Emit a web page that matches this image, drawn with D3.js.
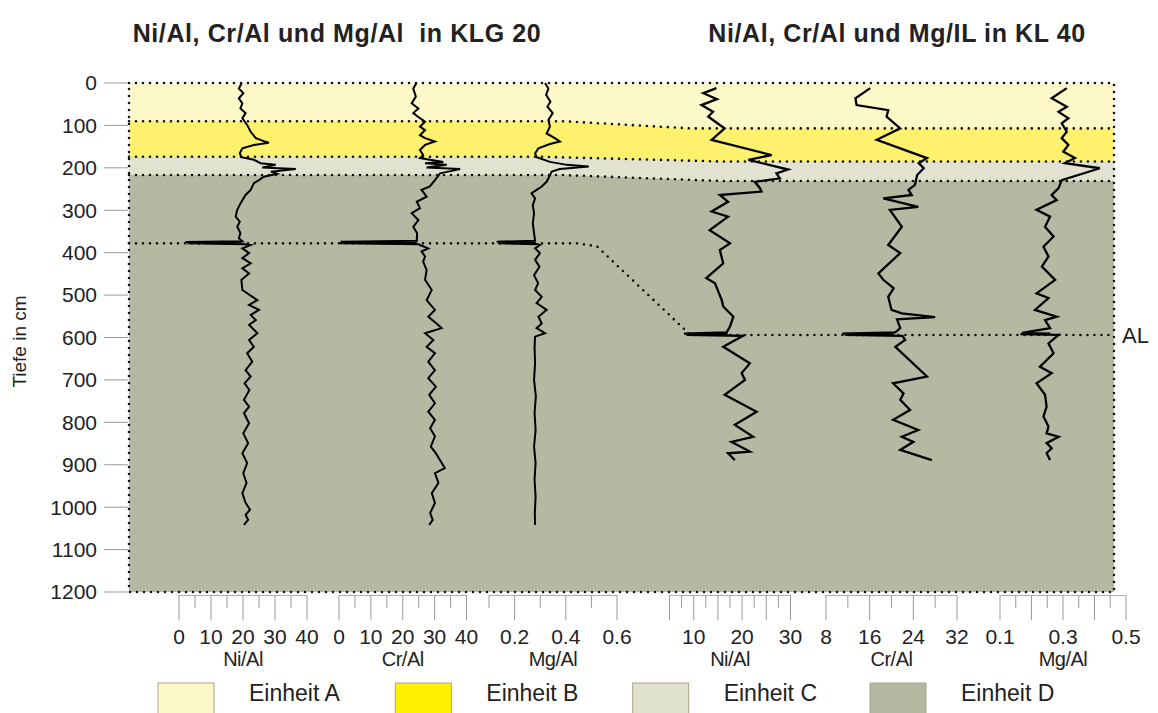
<!DOCTYPE html>
<meta charset="utf-8">
<style>
    body { margin: 0; background: #fff; }
    svg { font-family: "Liberation Sans", Arial, sans-serif; }
    .title { white-space: pre; }
</style>
<body>
<script src="https://d3js.org/d3.v7.min.js"></script>
<script>
const width = 1158, height = 713;

// depth axis (cm)
const depthTicks = d3.range(0, 1201, 100);

// layer boundaries: [position across the panel in %, depth in cm]
const boundaryAB = [[0, 90], [44, 90], [57, 107], [100, 107]];
const boundaryBC = [[0, 174], [42, 174], [60, 185], [100, 185]];
const boundaryCD = [[0, 217], [44, 217], [60, 231], [100, 231]];
const boundaryAL = [[0, 378], [45.5, 378], [47.5, 385], [57, 594], [100, 594]];

const units = ["Einheit A", "Einheit B", "Einheit C", "Einheit D"];
const unitFill = ["#fdf9c9", "#fdf16e", "#e1e2cf", "#b6b9a2"];
const legendFill = ["#fdf8c8", "#fff100", "#e0e1cf", "#b5b8a1"];

const titles = ["Ni/Al, Cr/Al und Mg/Al  in KLG 20", "Ni/Al, Cr/Al und Mg/IL in KL 40"];

// profiles: [depth cm, ratio]
const klgNi = [[0,19.6],[13,18.7],[24,20.1],[36,18.7],[48,19.8],[60,19.2],[71,20.8],[83,19.8],[99,21.3],[115,22.4],[130,24],[137,26.5],[141,28.1],[146,23.4],[154,19.8],[166,19],[175,19.5],[181,23.4],[189,25.5],[193,30.2],[199,26],[203,36.5],[209,28.7],[214,30.7],[221,26.5],[229,25],[236,23.4],[252,22.4],[264,20.8],[284,19.2],[299,18.2],[315,17.7],[327,19],[339,18.2],[354,19.2],[366,18.7],[373,19.8],[375,2],[377,19],[378,2.5],[380,20.5],[382,22.4],[390,19.8],[401,21.9],[413,19.8],[425,22.4],[437,19.8],[449,21.9],[464,19.5],[488,19.8],[512,24.5],[523,21.9],[535,25],[547,22.4],[559,24],[570,21.9],[590,24.5],[606,21.9],[622,23.4],[637,21.3],[657,22.9],[677,20.8],[692,22.4],[708,20.5],[724,22],[747,20.3],[763,21.9],[778,20.3],[802,21.9],[826,20.1],[849,21.6],[873,19.8],[896,21.3],[920,20.1],[943,21.1],[967,19.8],[990,20.8],[1006,22.2],[1018,20.8],[1030,21.6],[1042,20.3]];
const klgCr = [[0,24.3],[13,23.3],[32,24.1],[48,22.8],[60,24.9],[71,23.3],[83,25.4],[91,27],[103,25.4],[111,27],[123,25.4],[130,27],[138,30.1],[146,27],[158,25.4],[170,26.4],[177,25.4],[186,32.7],[189,27],[193,33.8],[199,27.5],[203,38],[213,31.7],[229,30.1],[244,28.5],[252,25.9],[268,27.5],[280,24.4],[295,25.4],[307,22.8],[323,24.9],[339,23.3],[354,24.5],[372,24.4],[374,0.5],[376,24],[378,0.3],[380,25],[382,25.4],[390,28],[397,25.9],[409,27],[421,26.4],[441,27.5],[464,27],[488,29.1],[512,27.5],[535,30.1],[551,28],[567,30.6],[578,32.2],[590,27],[606,29.6],[622,27.5],[637,30.1],[657,28],[677,30.1],[696,28],[716,30.4],[735,28.3],[755,30.1],[775,28],[794,30.1],[814,28.6],[833,30.1],[857,28.8],[873,30.4],[908,33.2],[920,30.1],[943,31.2],[967,29.1],[990,30.1],[1014,28.6],[1030,29.4],[1042,28.3]];
const klgMg = [[0,0.319],[13,0.332],[28,0.323],[44,0.34],[56,0.328],[71,0.349],[87,0.332],[103,0.338],[119,0.325],[130,0.357],[138,0.377],[144,0.338],[154,0.293],[166,0.28],[175,0.286],[186,0.338],[193,0.404],[197,0.49],[203,0.377],[209,0.345],[221,0.335],[233,0.325],[244,0.306],[252,0.286],[260,0.266],[272,0.28],[288,0.271],[307,0.276],[331,0.271],[354,0.276],[372,0.28],[374,0.13],[376,0.28],[378,0.135],[380,0.29],[382,0.299],[390,0.28],[401,0.299],[417,0.28],[433,0.297],[453,0.276],[472,0.292],[488,0.28],[504,0.306],[519,0.286],[535,0.325],[551,0.293],[567,0.306],[578,0.286],[590,0.319],[598,0.28],[622,0.278],[661,0.28],[700,0.276],[739,0.283],[778,0.278],[818,0.282],[857,0.276],[896,0.282],[935,0.278],[975,0.282],[1014,0.279],[1042,0.28]];

const klNi = [[12,14.7],[24,12],[38,14.8],[52,11.6],[68,14],[79,13],[99,15.4],[107,16.4],[134,13.7],[170,26.1],[181,21.3],[204,29.5],[213,27.1],[225,27.8],[233,22.6],[248,23.7],[256,24],[264,15.4],[280,17.1],[303,13.7],[315,17.1],[347,13.3],[378,17.5],[394,15.4],[425,16.1],[460,12.6],[472,14.4],[512,15.8],[527,16.1],[551,18.2],[574,17.5],[588,16.8],[591,8],[593,17],[594,8.5],[596,20.2],[622,16.1],[661,21.6],[684,19.9],[700,20.6],[735,16.4],[775,23],[806,18.5],[834,22.3],[846,17.8],[869,21.6],[873,17.1],[889,18.5]];
const klCr = [[12,16.1],[36,13.4],[52,13.6],[64,19.4],[79,19.1],[107,21.6],[134,17.3],[177,26.5],[189,25],[201,25.9],[217,24.7],[240,24.3],[252,23.1],[264,23.7],[272,18.5],[292,24.9],[299,19.7],[339,21.9],[382,19.4],[401,21.6],[449,17.6],[464,18.5],[484,20.4],[504,19.4],[535,20],[543,21.9],[552,28],[557,21],[578,21.6],[588,20.7],[591,11],[593,20.5],[594,11.5],[596,22],[606,22.5],[622,20.7],[692,26.5],[708,20.3],[732,22.2],[747,21.6],[771,23.4],[794,20.3],[818,24.9],[834,21.9],[846,24],[865,21.6],[889,27.4]];
const klMg = [[12,0.312],[36,0.264],[56,0.312],[68,0.286],[83,0.317],[95,0.296],[115,0.312],[130,0.296],[146,0.317],[162,0.301],[177,0.338],[189,0.306],[201,0.417],[229,0.296],[248,0.286],[264,0.264],[276,0.28],[299,0.216],[315,0.259],[339,0.243],[362,0.27],[386,0.238],[409,0.254],[433,0.233],[464,0.275],[496,0.216],[507,0.254],[535,0.211],[551,0.28],[559,0.243],[578,0.259],[589,0.17],[591,0.26],[592,0.165],[594,0.286],[614,0.254],[637,0.27],[669,0.227],[684,0.264],[708,0.216],[735,0.243],[763,0.248],[786,0.238],[810,0.254],[826,0.248],[834,0.286],[849,0.248],[861,0.264],[873,0.248],[889,0.259]];

// bottom axes: all ticks, long ticks and labelled values
const klgNiTicks = d3.range(0, 41, 5),  klgNiMajor = [0, 10, 20, 30, 40],  klgNiLabels = [0, 10, 20, 30, 40];
const klgCrTicks = d3.range(0, 41, 5),  klgCrMajor = [0, 10, 20, 30, 40],  klgCrLabels = [0, 10, 20, 30, 40];
const klgMgTicks = [0.1, 0.2, 0.3, 0.4, 0.5, 0.6], klgMgMajor = [0.2, 0.4, 0.6], klgMgLabels = [0.2, 0.4, 0.6];
const klNiTicks = [5, 7.5, 10, 12.5, 15, 17.5, 20, 22.5, 25, 27.5, 30], klNiMajor = [5, 10, 15, 20, 25, 30], klNiLabels = [10, 20, 30];
const klCrTicks = [8, 12, 16, 20, 24, 28, 32], klCrMajor = [8, 16, 24, 32], klCrLabels = [8, 16, 24, 32];
const klMgTicks = [0.1, 0.15, 0.2, 0.25, 0.3, 0.35, 0.4, 0.45, 0.5], klMgMajor = [0.1, 0.2, 0.3, 0.4, 0.5], klMgLabels = [0.1, 0.3, 0.5];

const svg = d3.select("body").append("svg")
    .attr("width", width)
    .attr("height", height);

const plotLeft = 129, plotRight = 1114, plotTop = 83, plotBottom = 592;

const y = d3.scaleLinear().domain([0, 1200]).range([plotTop, plotBottom]);
const pos = d3.scaleLinear().domain([0, 100]).range([plotLeft, plotRight]);

// layers: D first, then C, B, A painted from the top down to their lower boundary
svg.append("rect")
    .attr("x", plotLeft).attr("y", y(0))
    .attr("width", plotRight - plotLeft).attr("height", y(1200) - y(0))
    .attr("fill", unitFill[3]);

const fromTop = d3.area()
    .x(d => pos(d[0]))
    .y0(y(0))
    .y1(d => y(d[1]));

[[boundaryCD, 2], [boundaryBC, 1], [boundaryAB, 0]].forEach(([b, i]) => {
    svg.append("path").attr("d", fromTop(b)).attr("fill", unitFill[i]);
});

// dotted boundaries
const boundaryLine = d3.line().x(d => pos(d[0])).y(d => y(d[1]));
const dotted = sel => sel
    .attr("fill", "none")
    .attr("stroke", "#111")
    .attr("stroke-width", 2.6)
    .attr("stroke-linecap", "round")
    .attr("stroke-dasharray", "0 7");

[boundaryAB, boundaryBC, boundaryCD, boundaryAL].forEach(b => {
    svg.append("path").attr("d", boundaryLine(b)).call(dotted);
});

// dotted frame
svg.append("path")
    .attr("d", `M${plotLeft},${plotTop}H${plotRight}V${plotBottom}H${plotLeft}Z`)
    .call(dotted);

// depth axis
const yAxis = svg.append("g").attr("class", "y axis");
yAxis.selectAll("line").data(depthTicks).enter().append("line")
    .attr("x1", 104).attr("x2", plotLeft - 1)
    .attr("y1", d => y(d)).attr("y2", d => y(d))
    .attr("stroke", "#9a9a9a").attr("stroke-width", 1);
yAxis.selectAll("text").data(depthTicks).enter().append("text")
    .attr("x", 97)
    .attr("y", d => y(d))
    .attr("dy", "0.35em")
    .attr("text-anchor", "end")
    .attr("font-size", 21)
    .attr("fill", "#222")
    .text(d => d);

svg.append("text")
    .attr("transform", `translate(26,${(plotTop + plotBottom) / 2 + 4}) rotate(-90)`)
    .attr("text-anchor", "middle")
    .attr("font-size", 19)
    .attr("fill", "#222")
    .text("Tiefe in cm");

// profiles with their own horizontal scales
const profiles = [
    { name: "Ni/Al", data: klgNi, scale: d3.scaleLinear().domain([0, 40]).range([179, 307]), ticks: klgNiTicks, major: klgNiMajor, labels: klgNiLabels, fmt: d3.format("d"), w: 2 },
    { name: "Cr/Al", data: klgCr, scale: d3.scaleLinear().domain([0, 40]).range([339, 466.5]), ticks: klgCrTicks, major: klgCrMajor, labels: klgCrLabels, fmt: d3.format("d"), w: 2 },
    { name: "Mg/Al", data: klgMg, scale: d3.scaleLinear().domain([0.1, 0.6]).range([489, 617]), ticks: klgMgTicks, major: klgMgMajor, labels: klgMgLabels, fmt: d3.format(".1f"), w: 2 },
    { name: "Ni/Al", data: klNi, scale: d3.scaleLinear().domain([5, 30]).range([669.5, 790.5]), ticks: klNiTicks, major: klNiMajor, labels: klNiLabels, fmt: d3.format("d"), w: 2.3 },
    { name: "Cr/Al", data: klCr, scale: d3.scaleLinear().domain([8, 32]).range([826, 957]), ticks: klCrTicks, major: klCrMajor, labels: klCrLabels, fmt: d3.format("d"), w: 2.3 },
    { name: "Mg/Al", data: klMg, scale: d3.scaleLinear().domain([0.1, 0.5]).range([1000, 1126]), ticks: klMgTicks, major: klMgMajor, labels: klMgLabels, fmt: d3.format(".1f"), w: 2.3 }
];

const inList = (list, t) => list.some(l => Math.abs(l - t) < 1e-6);

profiles.forEach(p => {
    const line = d3.line()
        .x(d => p.scale(d[1]))
        .y(d => y(d[0]));

    svg.append("path")
        .datum(p.data)
        .attr("d", line)
        .attr("fill", "none")
        .attr("stroke", "#000")
        .attr("stroke-width", p.w)
        .attr("stroke-linejoin", "miter");

    const g = svg.append("g").attr("class", "x axis");
    const r = p.scale.range();
    g.append("line")
        .attr("x1", r[0]).attr("x2", r[1])
        .attr("y1", 595.5).attr("y2", 595.5)
        .attr("stroke", "#b0b0b0");
    g.selectAll(".tick").data(p.ticks).enter().append("line")
        .attr("class", "tick")
        .attr("x1", d => p.scale(d)).attr("x2", d => p.scale(d))
        .attr("y1", 595)
        .attr("y2", d => inList(p.major, d) ? 620 : 608)
        .attr("stroke", "#9a9a9a").attr("stroke-width", 1);
    g.selectAll(".lbl").data(p.labels).enter().append("text")
        .attr("class", "lbl")
        .attr("x", d => p.scale(d))
        .attr("y", 644)
        .attr("text-anchor", "middle")
        .attr("font-size", 21)
        .attr("fill", "#222")
        .text(p.fmt);
    g.append("text")
        .attr("x", (r[0] + r[1]) / 2)
        .attr("y", 666)
        .attr("text-anchor", "middle")
        .attr("font-size", 20)
        .attr("letter-spacing", -0.5)
        .attr("fill", "#222")
        .text(p.name);
});

svg.append("text")
    .attr("x", 1122).attr("y", y(594)).attr("dy", "0.35em")
    .attr("font-size", 22).attr("fill", "#222")
    .text("AL");

// titles
const titleX = d3.scalePoint().domain(titles).range([337, 897]);
svg.selectAll(".title").data(titles).enter().append("text")
    .attr("class", "title")
    .attr("x", d => titleX(d))
    .attr("y", 42)
    .attr("text-anchor", "middle")
    .attr("font-size", 25)
    .attr("letter-spacing", 0.6)
    .attr("font-weight", "bold")
    .attr("fill", "#222")
    .text(d => d);

// legend
const legendX = d3.scaleLinear().domain([0, 3]).range([158, 870]);
const legend = svg.selectAll(".legend").data(units).enter().append("g")
    .attr("class", "legend")
    .attr("transform", (d, i) => `translate(${legendX(i)},683)`);
legend.append("rect")
    .attr("width", 56).attr("height", 40)
    .attr("fill", (d, i) => legendFill[i])
    .attr("stroke", "#a9a58a").attr("stroke-width", 1);
legend.append("text")
    .attr("x", 91).attr("y", 18)
    .attr("font-size", 23)
    .attr("fill", "#222")
    .text(d => d);
</script>
</body>
</html>
